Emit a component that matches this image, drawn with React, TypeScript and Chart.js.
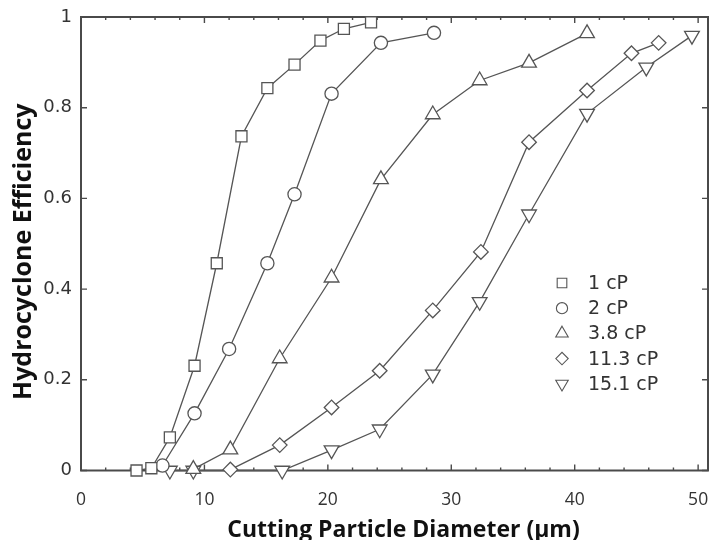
import React, { useEffect, useRef } from "react";
import { Chart, registerables } from "chart.js";
import { drawPoint } from "chart.js/helpers";

Chart.register(...registerables);

// ---- data ----
const seriesLabels = ["1 cP", "2 cP", "3.8 cP", "11.3 cP", "15.1 cP"];

const x1cP = [4.5, 5.7, 7.2, 9.2, 11.0, 13.0, 15.1, 17.3, 19.4, 21.3, 23.5];
const y1cP = [0.0, 0.005, 0.073, 0.231, 0.457, 0.737, 0.843, 0.895, 0.948, 0.974, 0.988];

const x2cP = [6.6, 9.2, 12.0, 15.1, 17.3, 20.3, 24.3, 28.6];
const y2cP = [0.011, 0.126, 0.268, 0.457, 0.609, 0.831, 0.943, 0.965];

const x38cP = [9.1, 12.1, 16.1, 20.3, 24.3, 28.5, 32.3, 36.3, 41.0];
const y38cP = [0.003, 0.046, 0.247, 0.425, 0.642, 0.785, 0.86, 0.899, 0.964];

const x113cP = [12.1, 16.1, 20.3, 24.2, 28.5, 32.4, 36.3, 41.0, 44.6, 46.8];
const y113cP = [0.002, 0.056, 0.139, 0.22, 0.353, 0.482, 0.724, 0.838, 0.92, 0.943];

const x151cP = [7.2, 9.1, 16.3, 20.3, 24.2, 28.5, 32.3, 36.3, 41.0, 45.8, 49.5];
const y151cP = [0.0, 0.0, 0.0, 0.045, 0.091, 0.212, 0.372, 0.565, 0.787, 0.889, 0.959];

const xTickValues = [0, 10, 20, 30, 40, 50];
const xMinorStep = 2;
const yTickValues = [0, 0.2, 0.4, 0.6, 0.8, 1];

const xTitle = "Cutting Particle Diameter (µm)";
const yTitle = "Hydrocyclone Efficiency";

// ---- styles ----
const INK = "#555555";
const FRAME = "#4a4a4a";
const TEXT = "#333333";
const RIGHT_GAP = 2;

const pointStyles = ["rect", "circle", "triangle", "rectRot", "triangle"];
const pointRadii = [7.8, 6.6, 8.5, 7.3, 8.5];
const pointRotations = [0, 0, 0, 0, 180];
const legendRadii = [6.8, 5.6, 7.2, 6.2, 7.2];

const toXY = (xs: number[], ys: number[]) => xs.map((x, i) => ({ x, y: ys[i] }));

const framePlugin = {
  id: "frameTicks",
  afterLayout(chart: any) {
    const a = chart.chartArea;
    const target = chart.width - RIGHT_GAP;
    if (Math.abs(a.right - target) > 0.25) {
      a.right = target;
      a.width = a.right - a.left;
      const xs = chart.scales.x;
      xs.right = target;
      xs.width = xs.right - xs.left;
      xs.configure();
    }
  },
  beforeDatasetsDraw(chart: any) {
    const { ctx, chartArea: a, scales } = chart;
    const xs = scales.x;
    const ys = scales.y;
    ctx.save();
    ctx.strokeStyle = FRAME;
    ctx.lineWidth = 1.4;
    ctx.beginPath();
    const xMax = xTickValues[xTickValues.length - 1];
    for (let v = xTickValues[0]; v <= xMax + 1e-9; v += xMinorStep) {
      const px = xs.getPixelForValue(v);
      const major = xTickValues.some((t) => Math.abs(t - v) < 1e-9);
      const len = major ? 6 : 3;
      ctx.moveTo(px, a.bottom);
      ctx.lineTo(px, a.bottom - len);
      ctx.moveTo(px, a.top);
      ctx.lineTo(px, a.top + len);
    }
    for (const v of yTickValues) {
      const py = ys.getPixelForValue(v);
      ctx.moveTo(a.left, py);
      ctx.lineTo(a.left + 6, py);
      ctx.moveTo(a.right, py);
      ctx.lineTo(a.right - 6, py);
    }
    ctx.stroke();
    ctx.lineWidth = 2;
    ctx.strokeRect(a.left, a.top, a.right - a.left, a.bottom - a.top);
    ctx.restore();
  },
  afterDraw(chart: any) {
    const { ctx, chartArea: a } = chart;
    ctx.save();
    ctx.fillStyle = "#111111";
    ctx.font = "bold 23px 'Open Sans'";
    ctx.textAlign = "center";
    ctx.textBaseline = "alphabetic";
    ctx.fillText(xTitle, (a.left + a.right) / 2 + 9, 537);
    ctx.translate(24, (a.top + a.bottom) / 2 + 8);
    ctx.rotate(-Math.PI / 2);
    ctx.font = "bold 25px 'Open Sans'";
    ctx.textBaseline = "middle";
    ctx.fillText(yTitle, 0, 0);
    ctx.restore();
  },
};

const legendPlugin = {
  id: "innerLegend",
  afterDatasetsDraw(chart: any) {
    const { ctx, chartArea: a } = chart;
    const markerX = a.right - 146;
    const firstY = a.top + 266;
    const rowH = 25.2;
    const textX = a.right - 120;
    ctx.save();
    ctx.font = "19px 'DejaVu Sans'";
    ctx.textBaseline = "middle";
    ctx.textAlign = "left";
    seriesLabels.forEach((label, i) => {
      const y = firstY + i * rowH;
      ctx.strokeStyle = INK;
      ctx.fillStyle = "#ffffff";
      ctx.lineWidth = 1.1;
      drawPoint(
        ctx,
        { pointStyle: pointStyles[i] as any, radius: legendRadii[i], rotation: pointRotations[i], borderWidth: 1.1 },
        markerX,
        y
      );
      ctx.fillStyle = TEXT;
      ctx.fillText(label, textX, y + 1);
    });
    ctx.restore();
  },
};

export default function App() {
  const canvasRef = useRef<HTMLCanvasElement | null>(null);

  useEffect(() => {
    const canvas = canvasRef.current;
    if (!canvas) return;
    const seriesXY = [
      toXY(x1cP, y1cP),
      toXY(x2cP, y2cP),
      toXY(x38cP, y38cP),
      toXY(x113cP, y113cP),
      toXY(x151cP, y151cP),
    ];
    const chart = new Chart(canvas, {
      type: "line",
      data: {
        datasets: seriesXY.map((d, i) => ({
          label: seriesLabels[i],
          data: d,
          borderColor: INK,
          borderWidth: 1.3,
          backgroundColor: "#ffffff",
          pointStyle: pointStyles[i] as any,
          pointRadius: pointRadii[i],
          pointRotation: pointRotations[i],
          pointBorderColor: INK,
          pointBackgroundColor: "#ffffff",
          pointBorderWidth: 1.3,
          tension: 0,
          fill: false,
          clip: false as any,
        })),
      },
      options: {
        animation: false,
        responsive: false,
        devicePixelRatio: 1,
        layout: { padding: { top: 17, right: RIGHT_GAP, left: 0, bottom: 0 } },
        plugins: {
          legend: { display: false },
          tooltip: { enabled: false },
        },
        scales: {
          x: {
            type: "linear",
            min: 0,
            max: 50.8,
            grid: { display: false, drawTicks: false },
            border: { display: false },
            afterBuildTicks: (s: any) => {
              s.ticks = xTickValues.map((v) => ({ value: v }));
            },
            afterFit: (s: any) => {
              s.height = 69.5;
              s.paddingLeft = 0;
              s.paddingRight = 0;
            },
            ticks: {
              padding: 19,
              color: TEXT,
              font: { family: "'Open Sans'", size: 17.5 },
              callback: (v: any) => String(v),
            },
            title: { display: false },
          },
          y: {
            type: "linear",
            min: 0,
            max: 1,
            grid: { display: false, drawTicks: false },
            border: { display: false },
            afterBuildTicks: (s: any) => {
              s.ticks = yTickValues.map((v) => ({ value: v }));
            },
            afterFit: (s: any) => {
              s.width = 81;
              s.paddingTop = 0;
              s.paddingBottom = 0;
            },
            ticks: {
              padding: 9,
              color: TEXT,
              font: { family: "'DejaVu Sans'", size: 18 },
              callback: (v: any) => String(Math.round(Number(v) * 10) / 10),
            },
            title: { display: false },
          },
        },
      },
      plugins: [framePlugin, legendPlugin],
    });
    return () => chart.destroy();
  }, []);

  return (
    <div style={{ position: "absolute", left: 0, top: 0, width: 710, height: 540, background: "#ffffff" }}>
      <canvas ref={canvasRef} width={710} height={540} style={{ display: "block" }} />
    </div>
  );
}
